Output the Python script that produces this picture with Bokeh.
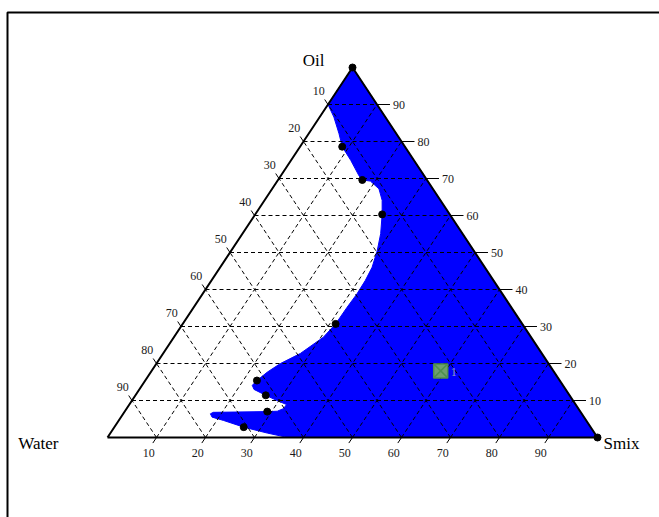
from bokeh.plotting import figure
from bokeh.models import Range1d
from bokeh.core.properties import value
from bokeh.embed import file_html
from bokeh.resources import INLINE

# ---- data: compositions in percent (oil, Smix); water = 100 - oil - Smix ----
# measured titration points (black dots)
point_oil = [100.0, 78.6, 69.6, 60.3, 30.7, 15.4, 11.4, 7.0, 2.8, 0.0]
point_smix = [0.0, 8.6, 17.2, 25.9, 31.2, 22.8, 26.6, 29.1, 26.4, 100.0]

# outline of the shaded (microemulsion) region
region_oil = [100.0, 0.0, 0.0, 1.2, 2.8, 4.6, 5.5, 6.4, 6.8, 7.0, 7.1, 7.8, 8.9,
              10.0, 11.4, 13.0, 14.1, 15.4, 17.7, 20.0, 22.7, 27.1, 30.7, 35.2,
              38.8, 42.4, 46.0, 50.5, 55.1, 60.3, 64.1, 67.2, 69.3, 69.6, 70.8,
              74.9, 78.6, 82.1, 86.6, 90.0]
region_smix = [0.0, 100.0, 36.8, 32.0, 26.4, 21.4, 18.6, 17.8, 18.2, 29.1, 31.1,
               32.0, 32.1, 29.6, 26.6, 23.4, 22.5, 22.8, 23.8, 25.3, 28.0, 30.5,
               31.2, 31.3, 31.5, 31.4, 31.0, 29.8, 28.2, 25.9, 24.0, 21.8, 19.0,
               17.2, 15.9, 12.2, 8.6, 6.2, 2.9, 0.0]

# highlighted formulation "1"
mark_oil = [18.0]
mark_smix = [59.0]
mark_label = ["1"]

ticks = [10, 20, 30, 40, 50, 60, 70, 80, 90]
tick_labels = [str(t) for t in ticks]
vertex_names = ["Water", "Oil", "Smix"]

# ---- plotting geometry ----
W, H = 659, 517
X0, Y0 = 107.0, 437.0      # pixel position of the Water corner
SX, SY = 4.9, 3.7          # pixels per percent along x and y


def tern(oil, smix):
    """Ternary composition -> plot coordinates."""
    return smix + oil / 2.0, oil


def px(xp, yp):
    """Pixel position -> plot coordinates (for decoration only)."""
    return (xp - X0) / SX, (Y0 - yp) / SY


p = figure(width=W, height=H, output_backend="svg", toolbar_location=None,
           x_range=Range1d(-X0 / SX, (W - X0) / SX),
           y_range=Range1d((Y0 - H) / SY, Y0 / SY),
           min_border=0, outline_line_color=None,
           background_fill_color="white", border_fill_color="white")
p.axis.visible = False
p.grid.visible = False

# page frame (left and top edges visible)
fx0, fy0 = px(7, 12)
fx1, fy1 = px(W + 20, H + 20)
p.line([fx0, fx0, fx1], [fy1, fy0, fy0], line_color="black", line_width=2)

# shaded region
rx, ry = zip(*[tern(o, s) for o, s in zip(region_oil, region_smix)])
p.patch(list(rx), list(ry), fill_color="#0000ff", line_color="#0000ff", line_width=1)

# dashed grid
gx, gy = [], []
for t in ticks:
    a, b = tern(t, 0), tern(t, 100 - t)            # constant oil
    gx.append([a[0], b[0]]); gy.append([a[1], b[1]])
    a, b = tern(0, t), tern(100 - t, t)            # constant Smix
    gx.append([a[0], b[0]]); gy.append([a[1], b[1]])
    a, b = tern(0, 100 - t), tern(100 - t, 0)      # constant water
    gx.append([a[0], b[0]]); gy.append([a[1], b[1]])
p.multi_line(gx, gy, line_color="black", line_width=1, line_dash="4 3")

# triangle edges
tx, ty = zip(*[tern(0, 0), tern(100, 0), tern(0, 100), tern(0, 0)])
p.line(list(tx), list(ty), line_color="black", line_width=2)

# tick marks
kx, ky = [], []
lx, ly, bx, by, rxs, rys = [], [], [], [], [], []
for t in ticks:
    # left edge: water
    a, b = tern(100 - t, 0), tern(100 - t + 1.35, -1.35)
    kx.append([a[0], b[0]]); ky.append([a[1], b[1]]); lx.append(b[0]); ly.append(b[1])
    # bottom edge: Smix
    a, b = tern(0, t), tern(-1.5, t)
    kx.append([a[0], b[0]]); ky.append([a[1], b[1]]); bx.append(b[0]); by.append(b[1])
    # right edge: oil
    a, b = tern(t, 100 - t), tern(t, 100 - t + 2.65)
    kx.append([a[0], b[0]]); ky.append([a[1], b[1]]); rxs.append(b[0]); rys.append(b[1])
p.multi_line(kx, ky, line_color="black", line_width=1)

font = value("Liberation Serif")
tick_style = dict(text_font=font, text_font_size="12px", text_color="#1a1a1a",
                  text_baseline="middle")
p.text(lx, ly, text=tick_labels, x_offset=-6, y_offset=-9, text_align="center", **tick_style)
p.text(bx, by, text=tick_labels, x_offset=-4, y_offset=10, text_align="center", **tick_style)
p.text(rxs, rys, text=tick_labels, x_offset=3, y_offset=0, text_align="left", **tick_style)

# data points
dx, dy = zip(*[tern(o, s) for o, s in zip(point_oil, point_smix)])
p.scatter(list(dx), list(dy), size=7, fill_color="black", line_color="black")

# formulation marker
mx, my = zip(*[tern(o, s) for o, s in zip(mark_oil, mark_smix)])
p.scatter(list(mx), list(my), marker="square_x", size=14, fill_color="#6f9f6f",
          line_color="#4f8f4f", line_width=1.5)
p.text(list(mx), list(my), text=mark_label, x_offset=10, y_offset=1,
       text_font=font, text_font_size="12px", text_color="#8f9fbf",
       text_align="left", text_baseline="middle")

# corner names
vx, vy = zip(*[tern(0, 0), tern(100, 0), tern(0, 100)])
name_style = dict(text_font=font, text_font_size="17px", text_color="black",
                  text_baseline="alphabetic")
p.text([vx[0]], [vy[0]], text=[vertex_names[0]], x_offset=-49, y_offset=6,
       text_align="right", **name_style)
p.text([vx[1]], [vy[1]], text=[vertex_names[1]], x_offset=-39, y_offset=-7,
       text_align="center", **name_style)
p.text([vx[2]], [vy[2]], text=[vertex_names[2]], x_offset=6, y_offset=6,
       text_align="left", **name_style)

open("out.html", "w").write(file_html(p, INLINE))
